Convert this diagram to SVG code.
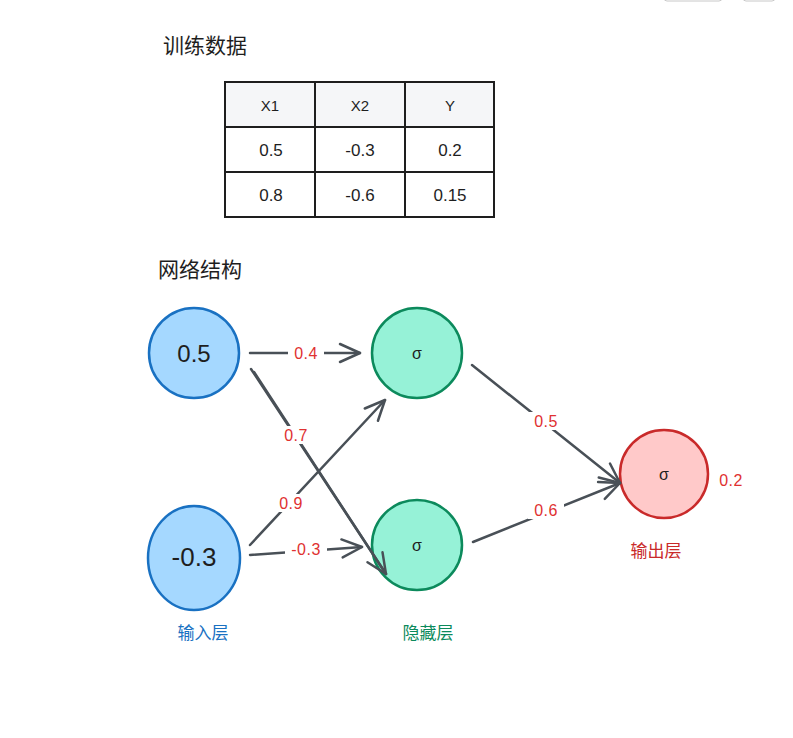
<svg xmlns="http://www.w3.org/2000/svg" width="793" height="738" viewBox="0 0 793 738">
<style>
.zh{font-family:"Noto Sans CJK SC","Noto Sans",sans-serif}
.t{font-family:"Liberation Sans","DejaVu Sans",sans-serif;fill:#1e1e1e;text-anchor:middle;dominant-baseline:central}
.cell{fill:#fff;stroke:#1e1e1e;stroke-width:2}
.hdr{fill:#f5f6f8;stroke:#1e1e1e;stroke-width:2}
.e{stroke:#495057;stroke-width:2.5;fill:none;stroke-linecap:round}
.lbl{font-family:"Liberation Sans","DejaVu Sans",sans-serif;font-size:16px;letter-spacing:0.5px;fill:#e03131;text-anchor:middle;dominant-baseline:central}
.lb{fill:#fff}
</style>
<defs>
<marker id="ah" markerUnits="userSpaceOnUse" markerWidth="30" markerHeight="30" refX="22" refY="12" orient="auto" viewBox="0 0 30 24">
<path d="M2,3 L22,12 L2,21" fill="none" stroke="#495057" stroke-width="2.5" stroke-linecap="round" stroke-linejoin="round"/>
</marker>
</defs>
<rect width="793" height="738" fill="#fff"/>
<g id="chrome" fill="none" stroke="#c8c8c8" stroke-width="1">
<rect x="664" y="-10" width="58" height="11" rx="3"/>
<rect x="743" y="-10" width="32" height="11" rx="3"/>
</g>
<text class="zh" x="163" y="53" font-size="21" fill="#1e1e1e">训练数据</text>
<g id="table">
<rect class="hdr" x="225" y="82" width="90" height="45"/>
<rect class="hdr" x="315" y="82" width="90" height="45"/>
<rect class="hdr" x="405" y="82" width="89" height="45"/>
<rect class="cell" x="225" y="127" width="90" height="45"/>
<rect class="cell" x="315" y="127" width="90" height="45"/>
<rect class="cell" x="405" y="127" width="89" height="45"/>
<rect class="cell" x="225" y="172" width="90" height="45"/>
<rect class="cell" x="315" y="172" width="90" height="45"/>
<rect class="cell" x="405" y="172" width="89" height="45"/>
<text class="t" x="270" y="105" font-size="15">X1</text>
<text class="t" x="360" y="105" font-size="15">X2</text>
<text class="t" x="450" y="105" font-size="15">Y</text>
<text class="t" x="271" y="150" font-size="17">0.5</text>
<text class="t" x="360" y="150" font-size="17">-0.3</text>
<text class="t" x="450" y="150" font-size="17">0.2</text>
<text class="t" x="271" y="195" font-size="17">0.8</text>
<text class="t" x="360" y="195" font-size="17">-0.6</text>
<text class="t" x="450" y="195" font-size="17">0.15</text>
</g>
<text class="zh" x="158" y="277" font-size="21" fill="#1e1e1e">网络结构</text>
<g id="in1">
<circle cx="194" cy="353" r="45" fill="#a5d8ff" stroke="#1971c2" stroke-width="2.5"/>
<text class="t" x="194" y="353" font-size="24">0.5</text>
</g>
<g id="in2">
<ellipse cx="194" cy="558" rx="46" ry="52" fill="#a5d8ff" stroke="#1971c2" stroke-width="2.5"/>
<text class="t" x="194" y="557" font-size="26">-0.3</text>
</g>
<text class="zh" x="203" y="639" font-size="17" fill="#1971c2" text-anchor="middle">输入层</text>
<g id="h1">
<circle cx="417" cy="353" r="45" fill="#96f2d7" stroke="#0c8a5c" stroke-width="2.5"/>
<text class="t" x="417" y="353" font-size="16">σ</text>
</g>
<g id="h2">
<circle cx="417" cy="545" r="45" fill="#96f2d7" stroke="#0c8a5c" stroke-width="2.5"/>
<text class="t" x="417" y="545" font-size="16">σ</text>
</g>
<text class="zh" x="428" y="639" font-size="17" fill="#0c8a5c" text-anchor="middle">隐藏层</text>
<g id="out">
<circle cx="664" cy="474" r="44" fill="#ffc9c9" stroke="#c92a2a" stroke-width="2.5"/>
<text class="t" x="664" y="474" font-size="16">σ</text>
</g>
<text class="lbl" x="731" y="480" font-size="17">0.2</text>
<text class="zh" x="656" y="557" font-size="17" fill="#c92a2a" text-anchor="middle">输出层</text>
<g id="connectors">
<line class="e" x1="250" y1="353" x2="360" y2="353" marker-end="url(#ah)"/>
<line class="e" x1="251" y1="369" x2="386" y2="574" marker-end="url(#ah)"/>
<line class="e" x1="254" y1="372" x2="386" y2="574"/>
<line class="e" x1="250" y1="545" x2="385" y2="400" marker-end="url(#ah)"/>
<line class="e" x1="250" y1="555" x2="362" y2="547" marker-end="url(#ah)"/>
<line class="e" x1="472" y1="365" x2="620" y2="483" marker-end="url(#ah)"/>
<line class="e" x1="473" y1="542" x2="620" y2="483" stroke-width="3.5" marker-end="url(#ah)"/>
<rect class="lb" x="288" y="344" width="36" height="18"/>
<text class="lbl" x="306" y="353">0.4</text>
<rect class="lb" x="279" y="426" width="34" height="18"/>
<text class="lbl" x="296" y="435">0.7</text>
<rect class="lb" x="274" y="494" width="34" height="18"/>
<text class="lbl" x="291" y="503">0.9</text>
<rect class="lb" x="285" y="540" width="42" height="18"/>
<text class="lbl" x="306" y="549">-0.3</text>
<rect class="lb" x="528" y="412" width="36" height="18"/>
<text class="lbl" x="546" y="421">0.5</text>
<rect class="lb" x="528" y="501" width="36" height="18"/>
<text class="lbl" x="546" y="510">0.6</text>
</g>
</svg>
